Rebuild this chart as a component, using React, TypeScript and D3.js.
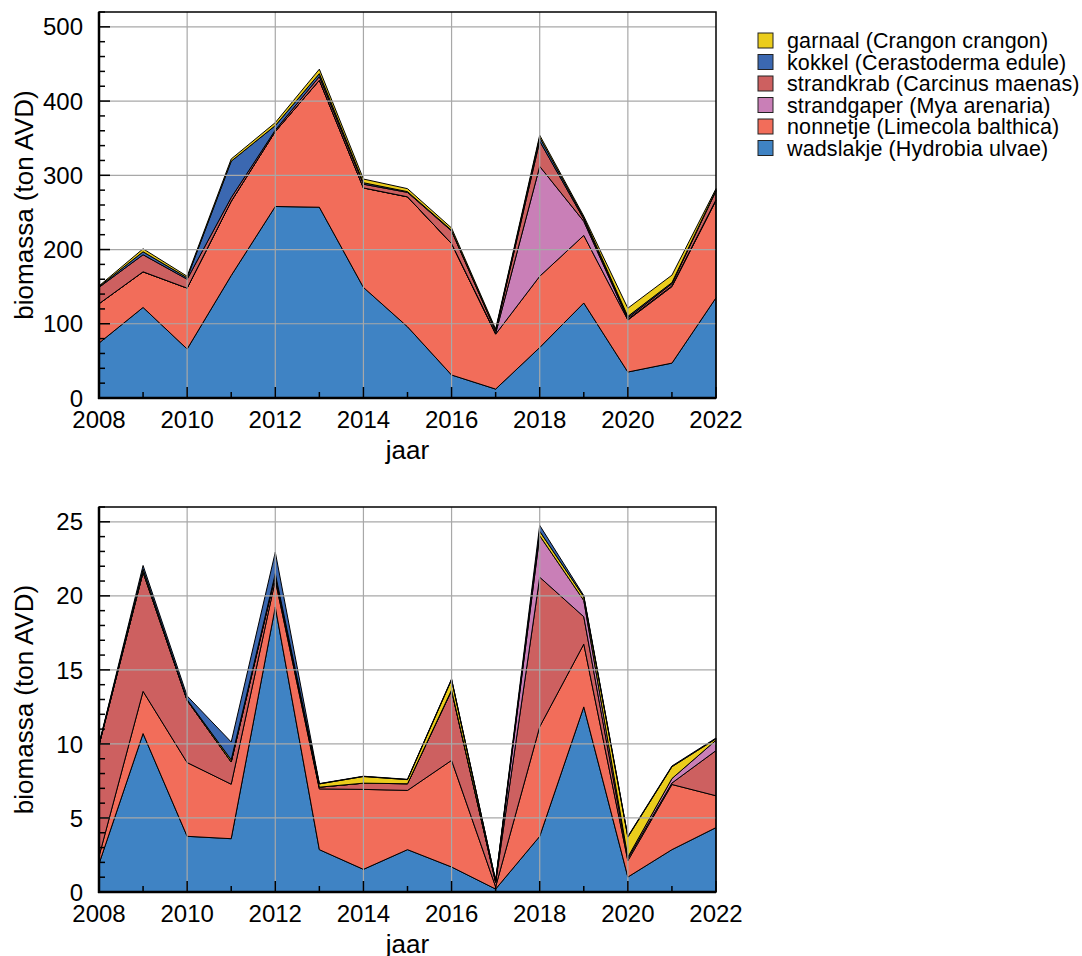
import React from "react";
import * as d3 from "d3";

const years = [2008, 2009, 2010, 2011, 2012, 2013, 2014, 2015, 2016, 2017, 2018, 2019, 2020, 2021, 2022];

// top panel (ton AVD)
const topWadslakje = [74, 122, 66, 165, 258, 257, 149, 96, 31, 12, 68, 128, 35, 47, 135];
const topNonnetje = [53, 48, 82, 100, 101, 171, 134, 175, 177, 74, 96, 91, 70, 103, 131];
const topStrandgaper = [0, 0, 0, 0, 0, 0, 0, 0, 0, 1, 148, 19, 1, 1, 1];
const topStrandkrab = [22, 23, 12, 5, 2, 5, 5, 6, 17, 3, 34, 3, 2, 3, 12];
const topKokkel = [1, 4, 2, 49, 6, 4, 2, 1, 1, 1, 5, 2, 2, 1.5, 1];
const topGarnaal = [1, 4, 2, 3, 4, 6, 5, 4, 3, 2, 3, 2, 11, 10, 2];

// bottom panel (ton AVD)
const botWadslakje = [1.9, 10.7, 3.76, 3.6, 19.25, 2.86, 1.53, 2.86, 1.69, 0.2, 3.76, 12.5, 1.01, 2.86, 4.35];
const botNonnetje = [0.5, 2.85, 4.98, 3.68, 1.8, 4.1, 5.4, 4.0, 7.2, 0.15, 7.4, 4.24, 1.1, 4.4, 2.15];
const botStrandkrab = [7.5, 8.05, 4.2, 1.5, 0.35, 0.12, 0.42, 0.45, 4.7, 0.3, 10.1, 1.85, 0.15, 0.1, 3.05];
const botStrandgaper = [0, 0, 0, 0, 0, 0, 0, 0, 0.05, 0.02, 2.8, 1.1, 0.1, 0.3, 0.7];
const botGarnaal = [0.05, 0.2, 0.05, 0.15, 0.1, 0.22, 0.45, 0.28, 0.7, 0.08, 0.3, 0.25, 1.35, 0.8, 0.1];
const botKokkel = [0.05, 0.25, 0.25, 1.2, 1.45, 0.02, 0.02, 0.02, 0.05, 0.02, 0.4, 0.08, 0.05, 0.05, 0.05];

const speciesNames = [
  "garnaal (Crangon crangon)",
  "kokkel (Cerastoderma edule)",
  "strandkrab (Carcinus maenas)",
  "strandgaper (Mya arenaria)",
  "nonnetje (Limecola balthica)",
  "wadslakje (Hydrobia ulvae)",
];
const speciesKeys = ["garnaal", "kokkel", "strandkrab", "strandgaper", "nonnetje", "wadslakje"];
const speciesColors: Record<string, string> = {
  garnaal: "#ebcd1c",
  kokkel: "#3b68b1",
  strandkrab: "#cd6060",
  strandgaper: "#c97fb7",
  nonnetje: "#f26d5a",
  wadslakje: "#3f83c4",
};

const topOrder = ["wadslakje", "nonnetje", "strandgaper", "strandkrab", "kokkel", "garnaal"];
const botOrder = ["wadslakje", "nonnetje", "strandkrab", "strandgaper", "garnaal", "kokkel"];

const topTicks = [0, 100, 200, 300, 400, 500];
const botTicks = [0, 5, 10, 15, 20, 25];
const xTickYears = [2008, 2010, 2012, 2014, 2016, 2018, 2020, 2022];

const FONT = "'Liberation Sans', Arial, Helvetica, sans-serif";

type PanelProps = {
  top: number;
  bottom: number;
  yMax: number;
  ticks: number[];
  minorStep: number;
  order: string[];
  series: Record<string, number[]>;
};

function Panel({ top, bottom, yMax, ticks, minorStep, order, series }: PanelProps) {
  const left = 99;
  const right = 716;
  const x = d3.scaleLinear().domain([2008, 2022]).range([left, right]);
  const y = d3.scaleLinear().domain([0, yMax]).range([bottom, top]);

  const table = years.map((yr, i) => {
    const row: any = { year: yr };
    for (const k of order) row[k] = series[k][i];
    return row;
  });
  const stacked = d3.stack<any>().keys(order)(table);
  const area = d3
    .area<any>()
    .x((d) => x(d.data.year))
    .y0((d) => y(d[0]))
    .y1((d) => y(d[1]));

  const minor = d3.range(0, yMax + 0.0001, minorStep);
  const allYears = d3.range(2008, 2023);

  return (
    <g>
      {stacked.map((s) => (
        <path
          key={s.key}
          d={area(s) || ""}
          fill={speciesColors[s.key]}
          stroke="#000"
          strokeWidth={1}
          strokeLinejoin="miter"
        />
      ))}
      {/* grid */}
      {ticks.slice(1).map((t) => (
        <line key={"gy" + t} x1={left} x2={right} y1={y(t)} y2={y(t)} stroke="#a8a8a8" strokeWidth={1.2} />
      ))}
      {xTickYears.slice(1, -1).map((t) => (
        <line key={"gx" + t} x1={x(t)} x2={x(t)} y1={top} y2={bottom} stroke="#a8a8a8" strokeWidth={1.2} />
      ))}
      {/* ticks */}
      {minor.map((t) => {
        const isMajor = ticks.some((m) => Math.abs(m - t) < 1e-6);
        return (
          <line key={"ty" + t} x1={left} x2={left + (isMajor ? 11 : 6)} y1={y(t)} y2={y(t)} stroke="#000" strokeWidth={1.5} />
        );
      })}
      {allYears.map((t) => {
        const isMajor = t % 2 === 0;
        return (
          <line key={"tx" + t} x1={x(t)} x2={x(t)} y1={bottom} y2={bottom - (isMajor ? 11 : 6)} stroke="#000" strokeWidth={1.5} />
        );
      })}
      {/* frame */}
      <rect x={left} y={top} width={right - left} height={bottom - top} fill="none" stroke="#000" strokeWidth={1.5} />
      <line x1={left} x2={left} y1={top} y2={bottom + 1} stroke="#000" strokeWidth={2.5} />
      <line x1={left - 1} x2={right} y1={bottom} y2={bottom} stroke="#000" strokeWidth={2.5} />
      {/* tick labels */}
      {ticks.map((t) => (
        <text key={"ly" + t} x={83} y={y(t)} dy="0.36em" textAnchor="end" fontSize={24} fontFamily={FONT} fill="#000">
          {t}
        </text>
      ))}
      {xTickYears.map((t) => (
        <text key={"lx" + t} x={x(t)} y={bottom + 30} textAnchor="middle" fontSize={24} fontFamily={FONT} fill="#000">
          {t}
        </text>
      ))}
      <text x={(left + right) / 2} y={bottom + 61} textAnchor="middle" fontSize={26} fontFamily={FONT} fill="#000">
        jaar
      </text>
      <text
        transform={`translate(33,${(top + bottom) / 2}) rotate(-90)`}
        textAnchor="middle"
        fontSize={26}
        fontFamily={FONT}
        fill="#000"
      >
        biomassa (ton AVD)
      </text>
    </g>
  );
}

export default function App() {
  const topSeries = {
    wadslakje: topWadslakje,
    nonnetje: topNonnetje,
    strandgaper: topStrandgaper,
    strandkrab: topStrandkrab,
    kokkel: topKokkel,
    garnaal: topGarnaal,
  };
  const botSeries = {
    wadslakje: botWadslakje,
    nonnetje: botNonnetje,
    strandkrab: botStrandkrab,
    strandgaper: botStrandgaper,
    garnaal: botGarnaal,
    kokkel: botKokkel,
  };
  return (
    <svg
      width={1082}
      height={956}
      style={{ position: "absolute", left: 0, top: 0, background: "#fff" }}
      xmlns="http://www.w3.org/2000/svg"
    >
      <rect x={0} y={0} width={1082} height={956} fill="#fff" />
      <Panel top={12} bottom={398} yMax={520} ticks={topTicks} minorStep={20} order={topOrder} series={topSeries} />
      <Panel top={507} bottom={892} yMax={26} ticks={botTicks} minorStep={1} order={botOrder} series={botSeries} />
      {/* legend */}
      {speciesKeys.map((k, i) => (
        <g key={k} transform={`translate(758,${33 + i * 21.5})`}>
          <rect x={0} y={0} width={15} height={15} fill={speciesColors[k]} stroke="#222" strokeWidth={1} />
          <text x={29} y={15} fontSize={21.5} letterSpacing={0.12} fontFamily={FONT} fill="#000">
            {speciesNames[i]}
          </text>
        </g>
      ))}
    </svg>
  );
}
